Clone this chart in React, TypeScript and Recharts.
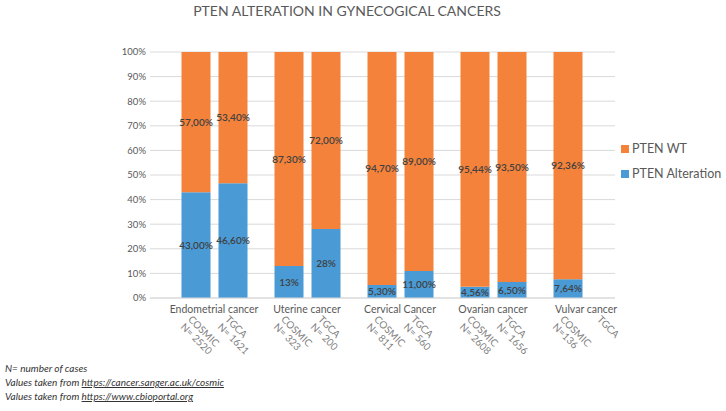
import { BarChart, Bar, XAxis, YAxis, CartesianGrid, LabelList } from "recharts";

const groups = [
  "Endometrial cancer",
  "Uterine cancer",
  "Cervical Cancer",
  "Ovarian cancer",
  "Vulvar cancer",
];
const cosmicAlteration = [43, 13, 5.3, 4.56, 7.64];
const cosmicWild = [57, 87.3, 94.7, 95.44, 92.36];
const tgcaAlteration = [46.6, 28, 11, 6.5, null];
const tgcaWild = [53.4, 72, 89, 93.5, null];

const cosmicAlterationLabels = ["43,00%", "13%", "5,30%", "4,56%", "7,64%"];
const cosmicWildLabels = ["57,00%", "87,30%", "94,70%", "95,44%", "92,36%"];
const tgcaAlterationLabels = ["46,60%", "28%", "11,00%", "6,50%", ""];
const tgcaWildLabels = ["53,40%", "72,00%", "89,00%", "93,50%", ""];

const cosmicCases = ["N= 2520", "N= 323", "N= 811", "N= 2608", "N=136"];
const tgcaCases = ["N= 1621", "N= 200", "N= 560", "N= 1656", ""];

const yTicks = [0, 10, 20, 30, 40, 50, 60, 70, 80, 90, 100];

const ORANGE = "#F4823B";
const BLUE = "#4A9AD5";
const FONT = "Lato, 'Open Sans', sans-serif";

const data = groups.map((group, i) => ({
  group,
  cosmicAlt: cosmicAlteration[i],
  cosmicWt: cosmicWild[i],
  tgcaAlt: tgcaAlteration[i],
  tgcaWt: tgcaWild[i],
  cosmicAltLabel: cosmicAlterationLabels[i],
  cosmicWtLabel: cosmicWildLabels[i],
  tgcaAltLabel: tgcaAlterationLabels[i],
  tgcaWtLabel: tgcaWildLabels[i],
}));

// group name under the pair, then the rotated source / case count under each bar
function GroupTick(props: any) {
  const { x, y, payload } = props;
  const i = payload.index;
  const subs = [
    { dx: -18.5, lines: ["COSMIC", cosmicCases[i]] },
    { dx: 18.5, lines: ["TGCA", tgcaCases[i]] },
  ];
  return (
    <g>
      <text x={x} y={y + 7} textAnchor="middle" fontSize={10.5} fill="#595959" fontFamily={FONT}>
        {payload.value}
      </text>
      {subs.map((s, k) => {
        const px = x + s.dx - 8;
        const py = y + 14;
        return (
          <text
            key={k}
            x={px}
            y={py}
            transform={`rotate(45 ${px} ${py})`}
            fontSize={10}
            fill="#7f7f7f"
            fontFamily={FONT}
          >
            {s.lines
              .filter((l) => l)
              .map((l, j) => (
                <tspan key={j} x={px} dy={j === 0 ? 0 : 10.5}>
                  {l}
                </tspan>
              ))}
          </text>
        );
      })}
    </g>
  );
}

const labelStyle = { fill: "#404040", fontSize: 10, fontWeight: 600, fontFamily: FONT };

export default function App() {
  return (
    <div style={{ position: "relative", width: 726, height: 411, fontFamily: FONT, background: "#fff" }}>
      <style>{"body{margin:0}"}</style>
      <div
        style={{
          position: "absolute",
          top: 2,
          left: 0,
          width: 694,
          textAlign: "center",
          fontSize: 14,
          color: "#595959",
        }}
      >
        PTEN ALTERATION IN GYNECOGICAL CANCERS
      </div>

      <BarChart
        width={726}
        height={411}
        data={data}
        barSize={29}
        barGap={8}
        margin={{ top: 52, right: 111, bottom: 53, left: 0 }}
      >
        <CartesianGrid vertical={false} stroke="#D9D9D9" />
        <XAxis
          dataKey="group"
          interval={0}
          height={60}
          tickLine={false}
          stroke="#D9D9D9"
          padding={{ left: 17.5, right: -17.5 }}
          tick={<GroupTick />}
        />
        <YAxis
          width={150}
          domain={[0, 100]}
          ticks={yTicks}
          allowDataOverflow
          axisLine={false}
          tickLine={false}
          tickSize={2}
          tickMargin={2}
          tickFormatter={(v) => `${v}%`}
          tick={{ fill: "#595959", fontSize: 9.5, fontFamily: FONT }}
        />
        <Bar dataKey="cosmicAlt" stackId="cosmic" fill={BLUE} isAnimationActive={false}>
          <LabelList dataKey="cosmicAltLabel" position="center" style={labelStyle} />
        </Bar>
        <Bar dataKey="cosmicWt" stackId="cosmic" fill={ORANGE} isAnimationActive={false}>
          <LabelList dataKey="cosmicWtLabel" position="center" style={labelStyle} />
        </Bar>
        <Bar dataKey="tgcaAlt" stackId="tgca" fill={BLUE} isAnimationActive={false}>
          <LabelList dataKey="tgcaAltLabel" position="center" style={labelStyle} />
        </Bar>
        <Bar dataKey="tgcaWt" stackId="tgca" fill={ORANGE} isAnimationActive={false}>
          <LabelList dataKey="tgcaWtLabel" position="center" style={labelStyle} />
        </Bar>
      </BarChart>

      <div
        style={{
          position: "absolute",
          left: 621,
          top: 136,
          color: "#595959",
          fontSize: 12.5,
          lineHeight: "25px",
          whiteSpace: "nowrap",
        }}
      >
        <div style={{ display: "flex", alignItems: "center" }}>
          <span style={{ width: 8, height: 8, background: ORANGE, marginRight: 3 }} />
          PTEN WT
        </div>
        <div style={{ display: "flex", alignItems: "center" }}>
          <span style={{ width: 8, height: 8, background: BLUE, marginRight: 3 }} />
          PTEN Alteration
        </div>
      </div>

      <div
        style={{
          position: "absolute",
          left: 5,
          top: 361,
          fontSize: 10,
          fontStyle: "italic",
          color: "#333",
          lineHeight: "14px",
        }}
      >
        <div>N= number of cases</div>
        <div>
          Values taken from <u>https://cancer.sanger.ac.uk/cosmic</u>
        </div>
        <div>
          Values taken from <u>https://www.cbioportal.org</u>
        </div>
      </div>
    </div>
  );
}
